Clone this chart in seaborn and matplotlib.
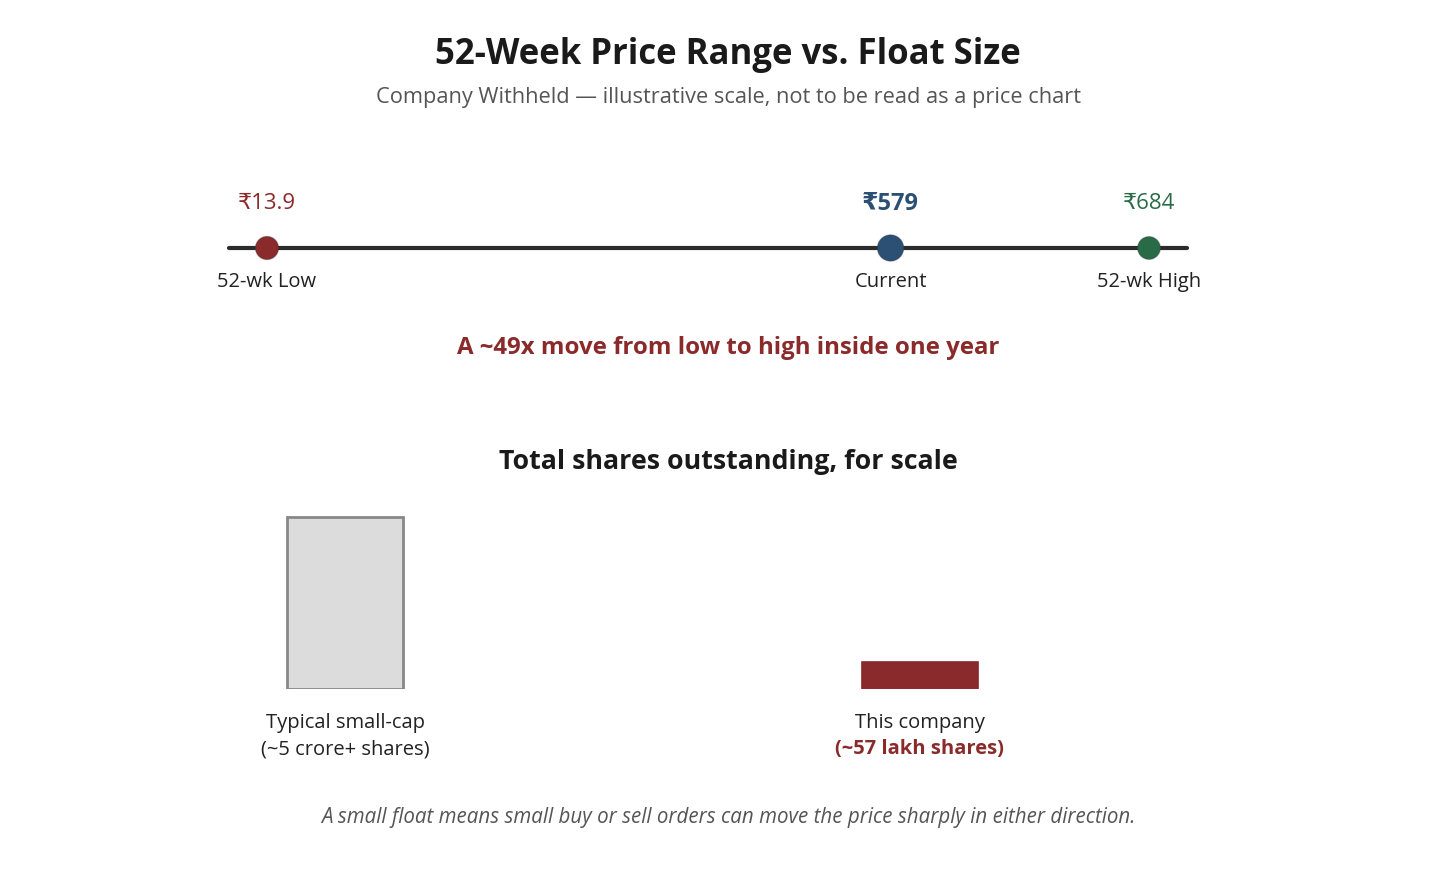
import numpy as np
import pandas as pd
import seaborn as sns
import matplotlib.pyplot as plt

# price points (rupees)
price_labels = ["52-wk Low", "Current", "52-wk High"]
prices = [13.9, 579, 684]
price_text = ["₹13.9", "₹579", "₹684"]
price_colors = ["#8b2a2a", "#2c4f74", "#2a6b47"]

# share counts, illustrative bar heights
share_groups = ["Typical small-cap", "This company"]
share_notes = ["(~5 crore+ shares)", "(~57 lakh shares)"]
share_heights = [5.0, 0.82]

W, H = 1456, 881
sns.set_theme(style="white")
plt.rcParams["font.family"] = ["Open Sans", "DejaVu Sans"]

fig = plt.figure(figsize=(W / 100, H / 100), dpi=100)


def ftext(x, y, s, **kw):
    kw.setdefault("ha", "center")
    kw.setdefault("va", "center")
    fig.text(x / W, 1 - y / H, s, **kw)


ftext(728, 55, "52-Week Price Range vs. Float Size", fontsize=25, fontweight="bold", color="#1a1a1a")
ftext(728, 98, "Company Withheld \u2014 illustrative scale, not to be read as a price chart",
      fontsize=15.7, color="#555555")

# ---- price range strip (illustrative power scale) ----
p = 2.08
fwd = lambda x: np.sign(x) * np.abs(x) ** p
inv = lambda x: np.sign(x) * np.abs(x) ** (1 / p)

ax1 = fig.add_axes([0, 1 - 308 / H, 1, 120 / H])
ax1.set_xscale("function", functions=(fwd, inv))
lo, hi = fwd(prices[0]), fwd(prices[-1])
ppx = (hi - lo) / (1149 - 267)
ax1.set_xlim(inv(lo - 267 * ppx), inv(lo + (W - 267) * ppx))
ax1.set_ylim(-1, 1)
pad = 0.043 * (hi - lo)
ax1.plot([inv(lo - pad), inv(hi + pad)], [0, 0], color="#2b2b2b", lw=3, zorder=1)

pts = pd.DataFrame({"label": price_labels, "price": prices, "y": 0})
sns.scatterplot(data=pts, x="price", y="y", hue="label", palette=price_colors,
                size="label", sizes=[280, 360, 270], edgecolor="#33333355",
                linewidth=0.8, legend=False, ax=ax1, zorder=3)
for i, (pr, txt, col, lab) in enumerate(zip(prices, price_text, price_colors, price_labels)):
    cur = lab == "Current"
    ax1.annotate(txt, (pr, 0), xytext=(0, 32), textcoords="offset points",
                 ha="center", va="center", fontsize=17 if cur else 16, color=col,
                 fontweight="bold" if cur else "normal")
    ax1.annotate(lab, (pr, 0), xytext=(0, -24.5), textcoords="offset points",
                 ha="center", va="center", fontsize=14.5, color="#222222")
ax1.axis("off")

ftext(728, 348, "A ~49x move from low to high inside one year",
      fontsize=17.3, fontweight="bold", color="#8b2a2a")

ftext(728, 462, "Total shares outstanding, for scale",
      fontsize=19.3, fontweight="bold", color="#1a1a1a")

# ---- float size bars ----
ax2 = fig.add_axes([0, 1 - 689 / H, 1, 189 / H])
bars = pd.DataFrame({"group": share_groups, "height": share_heights})
sns.barplot(data=bars, x="group", y="height", hue="group", saturation=1,
            palette=["#dcdcdc", "#8b2a2c"], width=0.202, legend=False, ax=ax2)
for patch, ec in zip(ax2.patches, ["#888888", "#8b2a2c"]):
    patch.set_edgecolor(ec)
    patch.set_linewidth(2 if ec == "#888888" else 0.5)
x0 = -345 / 574.5
ax2.set_xlim(x0, x0 + W / 574.5)
ax2.set_ylim(0, 189 / 172 * share_heights[0])
ax2.axis("off")

for i, (g, note) in enumerate(zip(share_groups, share_notes)):
    ax2.annotate(g, (i, 0), xytext=(0, -24.5), textcoords="offset points",
                 ha="center", va="center", fontsize=14.5, color="#222222")
    ax2.annotate(note, (i, 0), xytext=(0, -43.5), textcoords="offset points",
                 ha="center", va="center", fontsize=14.5,
                 color="#8b2a2a" if i == 1 else "#222222",
                 fontweight="bold" if i == 1 else "normal")

ftext(728, 818, "A small float means small buy or sell orders can move the price sharply in either direction.",
      fontsize=14.8, style="italic", color="#555555")

fig.savefig("out.png", dpi=100, facecolor="white")
